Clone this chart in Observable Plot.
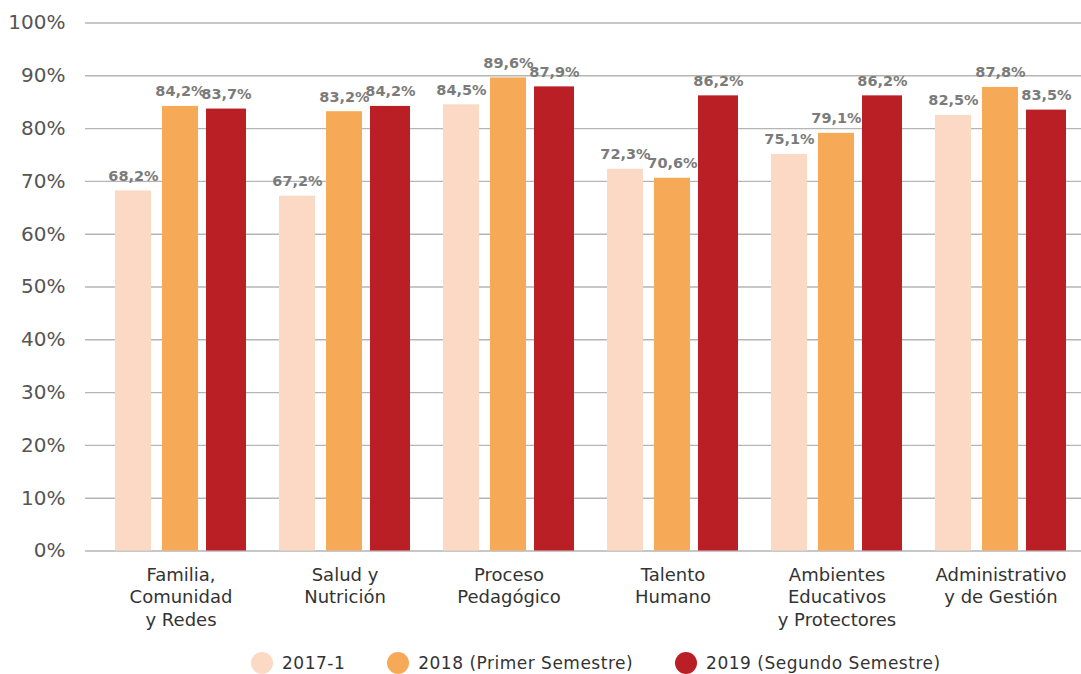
<!DOCTYPE html>
<html><head><meta charset="utf-8">
<script src="https://cdn.jsdelivr.net/npm/d3@7"></script>
<script src="https://cdn.jsdelivr.net/npm/@observablehq/plot@0.6"></script>
<style>
body{margin:0;background:#fff;font-family:"DejaVu Sans",sans-serif;}
#legend{display:flex;gap:42px;padding-left:251px;margin-top:12px;height:22px;align-items:center;font-size:17px;color:#333;letter-spacing:0.5px}
.item{display:flex;align-items:center;gap:9px;white-space:nowrap}
.dot{width:22px;height:22px;border-radius:50%;flex:none}
</style></head><body><div id="chart"></div><div id="legend"></div>
<script>
const categories = ["Familia,\nComunidad\ny Redes", "Salud y\nNutrición", "Proceso\nPedagógico", "Talento\nHumano", "Ambientes\nEducativos\ny Protectores", "Administrativo\ny de Gestión"];
const seriesNames = ["2017-1", "2018 (Primer Semestre)", "2019 (Segundo Semestre)"];
const values2017 = [68.2, 67.2, 84.5, 72.3, 75.1, 82.5];
const values2018 = [84.2, 83.2, 89.6, 70.6, 79.1, 87.8];
const values2019 = [83.7, 84.2, 87.9, 86.2, 86.2, 83.5];
const yTicks = [0, 10, 20, 30, 40, 50, 60, 70, 80, 90, 100];
const colors = ["#FBD9C5", "#F6AA57", "#BB1F26"];

const seriesValues = [values2017, values2018, values2019];
// per-series placement inside each category band (widths 36/36/40 in a 131px band)
const layout = [
  {insetLeft: 0, insetRight: 95, dx: -47.5},
  {insetLeft: 47, insetRight: 48, dx: -0.5},
  {insetLeft: 91, insetRight: 0, dx: 45.5}
];
const fmt = v => v.toFixed(1).replace(".", ",") + "%";

const marks = [
  Plot.ruleY(yTicks, {stroke: "#b5b5b5", strokeWidth: 1.4})
];
seriesValues.forEach((vals, i) => {
  const rows = categories.map((c, j) => ({cat: c, value: vals[j]}));
  marks.push(Plot.barY(rows, {x: "cat", y: "value", fill: colors[i], insetLeft: layout[i].insetLeft, insetRight: layout[i].insetRight}));
});
seriesValues.forEach((vals, i) => {
  const rows = categories.map((c, j) => ({cat: c, value: vals[j]}));
  marks.push(Plot.text(rows, {x: "cat", y: "value", text: d => fmt(d.value), dx: layout[i].dx, dy: -10, lineAnchor: "bottom", fill: "#7b7b7b", fontWeight: "bold", fontSize: 14.5, style: "letter-spacing:0.6px"}));
});
marks.push(Plot.axisY(yTicks, {tickSize: 0, tickPadding: 20, tickFormat: d => d + "%", fontSize: 20, fill: "#555", anchor: "left", label: null}));
marks.push(Plot.text(categories, {x: d => d, text: d => d, frameAnchor: "bottom", lineAnchor: "top", dy: 14, lineHeight: 1.25, fontSize: 18, fill: "#333"}));

const chart = Plot.plot({
  width: 1081,
  height: 640,
  marginLeft: 85,
  marginRight: 0,
  marginTop: 22.5,
  marginBottom: 89.5,
  style: {fontFamily: "DejaVu Sans", background: "#fff", overflow: "visible"},
  x: {domain: categories, paddingInner: 0.203, paddingOuter: 0.131, align: 0.67, axis: null},
  y: {domain: [0, 100], axis: null, label: null},
  marks
});
document.getElementById("chart").appendChild(chart);

const legend = document.getElementById("legend");
seriesNames.forEach((n, i) => {
  const item = document.createElement("div");
  item.className = "item";
  item.innerHTML = `<span class="dot" style="background:${colors[i]}"></span><span>${n}</span>`;
  legend.appendChild(item);
});
</script></body></html>
